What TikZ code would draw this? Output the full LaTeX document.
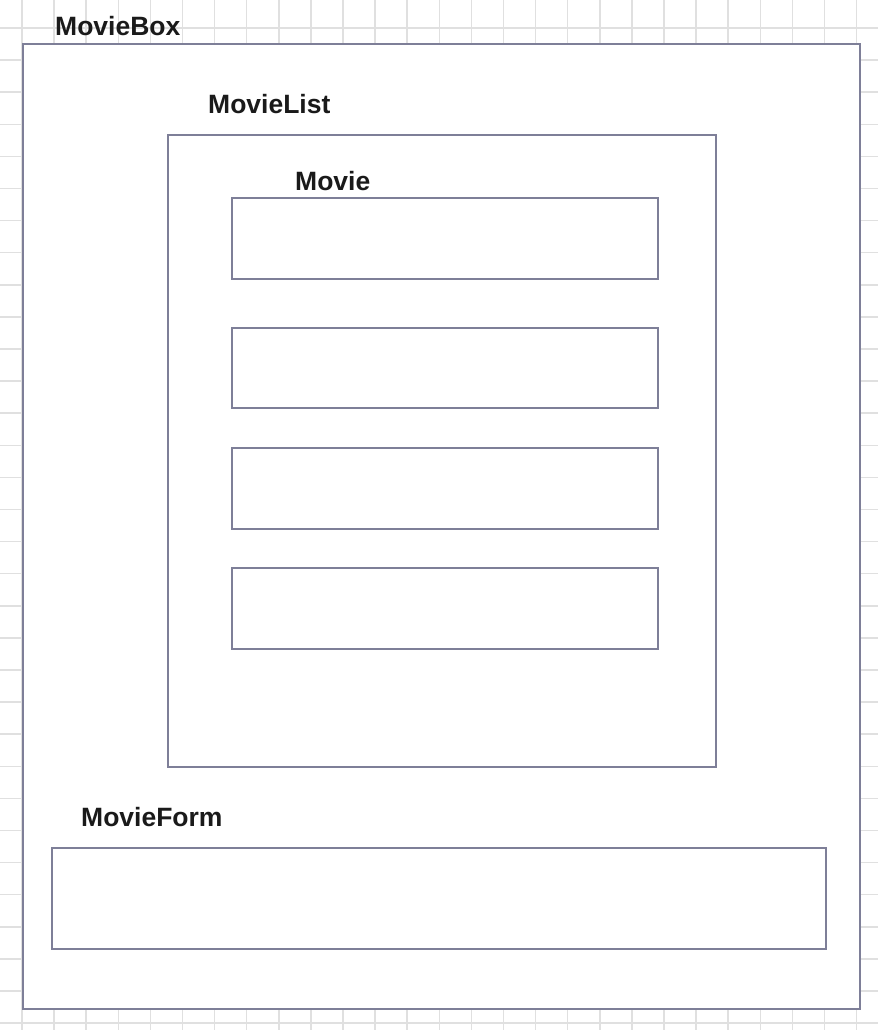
\documentclass[tikz,border=0pt]{standalone}
\usepackage{fontspec}
\setmainfont{Liberation Sans}
\definecolor{edge}{HTML}{7E7F98}
\definecolor{gridc}{HTML}{E0E0E0}
\definecolor{labelc}{HTML}{1A1A1A}
\begin{document}
\begin{tikzpicture}[x=1pt,y=-1pt,
  boxc/.style={draw=edge, line width=1.6pt, fill=white, inner sep=0pt, anchor=north west},
  lbl/.style={anchor=west, inner sep=0pt, text=labelc, font=\fontsize{26.5}{26.5}\selectfont\bfseries}]
\useasboundingbox (0,0) rectangle (878,1030);
\fill[white] (0,0) rectangle (878,1030);
\foreach \k in {-1,...,27} {
  \draw[gridc, line width=1.5pt] ({22+32.1*\k},0) -- ({22+32.1*\k},1030);
}
\foreach \k in {-1,...,31} {
  \draw[gridc, line width=1.5pt] (0,{28+32.1*\k}) -- (878,{28+32.1*\k});
}
\node[boxc, minimum width=837pt, minimum height=965pt] (moviebox) at (22,43) {};
\node[boxc, minimum width=548pt, minimum height=632pt] (movielist) at (167,134) {};
\node[boxc, minimum width=426pt, minimum height=81pt] (movie1) at (231,197) {};
\node[boxc, minimum width=426pt, minimum height=80pt] (movie2) at (231,327) {};
\node[boxc, minimum width=426pt, minimum height=81pt] (movie3) at (231,447) {};
\node[boxc, minimum width=426pt, minimum height=81pt] (movie4) at (231,567) {};
\node[boxc, minimum width=774pt, minimum height=101pt] (movieform) at (51,847) {};
\node[lbl] (lmoviebox) at (55,26.5) {MovieBox};
\node[lbl] (lmovielist) at (208,104) {MovieList};
\node[lbl] (lmovie) at (295,181) {Movie};
\node[lbl] (lmovieform) at (81,817.5) {MovieForm};
\end{tikzpicture}
\end{document}
